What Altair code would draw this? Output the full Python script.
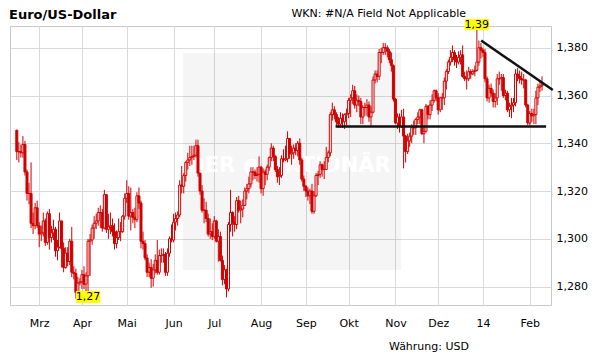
import altair as alt
import pandas as pd

RED = "#d00000"
FONT = "DejaVu Sans"

# ---- data (EUR/USD daily, 14 Feb 2013 .. 11 Feb 2014, trading days) ----
first_open = 1.3455
close = [
    1.3365, 1.3365,
    1.3360, 1.3395, 1.3280, 1.3190, 1.3190,
    1.3065, 1.3055, 1.3130, 1.3055, 1.3020,
    1.3025, 1.3075, 1.2985, 1.3105, 1.3005,
    1.3025, 1.3040, 1.2950, 1.2965, 1.3075,
    1.2960, 1.2880, 1.2940, 1.2905, 1.2990,
    1.2860, 1.2855, 1.2775, 1.2815, 1.2820,
    1.2850, 1.2810, 1.2845, 1.2990, 1.2995,
    1.3045, 1.3065, 1.3075, 1.3110, 1.3110,
    1.3045, 1.3185, 1.3040, 1.3050, 1.3055,
    1.3030, 1.2980, 1.3005, 1.3030, 1.3030,
    1.3095, 1.3170, 1.3190, 1.3095, 1.3110,
    1.3090, 1.3080, 1.3180, 1.3150, 1.2990,
    1.2980, 1.2920, 1.2860, 1.2880, 1.2835,
    1.2870, 1.2910, 1.2860, 1.2930, 1.2930,
    1.2935, 1.2860, 1.2940, 1.3000, 1.2995,
    1.3070, 1.3085, 1.3100, 1.3225, 1.3220,
    1.3265, 1.3320, 1.3330, 1.3340, 1.3345,
    1.3350, 1.3390, 1.3275, 1.3200, 1.3120,
    1.3120, 1.3085, 1.3020, 1.3030, 1.3010,
    1.3075, 1.2990, 1.3010, 1.2910, 1.2830,
    1.2870, 1.2790, 1.3060, 1.3110, 1.3070,
    1.3060, 1.3160, 1.3120, 1.3125, 1.3140,
    1.3200, 1.3210, 1.3230, 1.3280, 1.3280,
    1.3265, 1.3270, 1.3300, 1.3210, 1.3280,
    1.3270, 1.3300, 1.3340, 1.3380, 1.3345,
    1.3290, 1.3260, 1.3265, 1.3335, 1.3330,
    1.3335, 1.3420, 1.3355, 1.3360, 1.3380,
    1.3370, 1.3400, 1.3330, 1.3250, 1.3220,
    1.3200, 1.3180, 1.3200, 1.3115, 1.3180,
    1.3265, 1.3270, 1.3310, 1.3290, 1.3290,
    1.3340, 1.3360, 1.3520, 1.3540, 1.3520,
    1.3490, 1.3480, 1.3505, 1.3490, 1.3520,
    1.3525, 1.3580, 1.3590, 1.3620, 1.3560,
    1.3580, 1.3575, 1.3510, 1.3550, 1.3550,
    1.3560, 1.3510, 1.3530, 1.3665, 1.3690,
    1.3680, 1.3780, 1.3780, 1.3800, 1.3800,
    1.3785, 1.3750, 1.3725, 1.3585, 1.3485,
    1.3510, 1.3470, 1.3510, 1.3430, 1.3365,
    1.3410, 1.3430, 1.3465, 1.3465, 1.3500,
    1.3510, 1.3540, 1.3440, 1.3450, 1.3555,
    1.3520, 1.3560, 1.3580, 1.3620, 1.3590,
    1.3540, 1.3590, 1.3590, 1.3660, 1.3700,
    1.3740, 1.3760, 1.3780, 1.3750, 1.3740,
    1.3760, 1.3770, 1.3680, 1.3670, 1.3670,
    1.3700, 1.3690, 1.3700, 1.3705, 1.3740,
    1.3800, 1.3790, 1.3780, 1.3670, 1.3590,
    1.3630, 1.3610, 1.3575, 1.3590, 1.3670,
    1.3670, 1.3675, 1.3600, 1.3610, 1.3540,
    1.3555, 1.3560, 1.3570, 1.3690, 1.3680,
    1.3670, 1.3665, 1.3665, 1.3560, 1.3485,
    1.3525, 1.3515, 1.3520, 1.3590, 1.3635,
    1.3640, 1.3645,
]
high = [
    1.3455, 1.3405,
    1.3395, 1.3430, 1.3410, 1.3290, 1.3235,
    1.3320, 1.3110, 1.3150, 1.3160, 1.3070,
    1.3055, 1.3110, 1.3085, 1.3115, 1.3125,
    1.3055, 1.3080, 1.3050, 1.2995, 1.3110,
    1.3000, 1.2985, 1.2965, 1.2965, 1.3000,
    1.3050, 1.2885, 1.2875, 1.2840, 1.2835,
    1.2870, 1.2885, 1.2860, 1.3000, 1.3020,
    1.3060, 1.3095, 1.3105, 1.3130, 1.3140,
    1.3125, 1.3205, 1.3185, 1.3105, 1.3110,
    1.3085, 1.3065, 1.3035, 1.3085, 1.3070,
    1.3100, 1.3190, 1.3245, 1.3220, 1.3215,
    1.3125, 1.3130, 1.3195, 1.3215, 1.3160,
    1.3030, 1.2995, 1.2935, 1.2900, 1.2915,
    1.2895, 1.2935, 1.2995, 1.2955, 1.2960,
    1.2960, 1.2945, 1.2960, 1.3010, 1.3060,
    1.3105, 1.3110, 1.3115, 1.3245, 1.3305,
    1.3275, 1.3325, 1.3360, 1.3390, 1.3390,
    1.3390, 1.3415, 1.3415, 1.3275, 1.3225,
    1.3170, 1.3155, 1.3105, 1.3085, 1.3065,
    1.3095, 1.3080, 1.3040, 1.3030, 1.2930,
    1.2890, 1.2875, 1.3070, 1.3205, 1.3115,
    1.3095, 1.3175, 1.3180, 1.3160, 1.3165,
    1.3215, 1.3230, 1.3260, 1.3300, 1.3300,
    1.3290, 1.3300, 1.3345, 1.3305, 1.3295,
    1.3290, 1.3310, 1.3345, 1.3400, 1.3390,
    1.3350, 1.3305, 1.3300, 1.3350, 1.3375,
    1.3390, 1.3450, 1.3415, 1.3390, 1.3395,
    1.3400, 1.3410, 1.3420, 1.3340, 1.3265,
    1.3225, 1.3215, 1.3210, 1.3230, 1.3200,
    1.3275, 1.3285, 1.3325, 1.3315, 1.3325,
    1.3385, 1.3370, 1.3530, 1.3570, 1.3555,
    1.3530, 1.3510, 1.3530, 1.3525, 1.3525,
    1.3545, 1.3590, 1.3605, 1.3645, 1.3640,
    1.3605, 1.3600, 1.3590, 1.3560, 1.3570,
    1.3585, 1.3575, 1.3555, 1.3680, 1.3705,
    1.3705, 1.3795, 1.3800, 1.3820, 1.3820,
    1.3810, 1.3795, 1.3780, 1.3730, 1.3590,
    1.3525, 1.3525, 1.3540, 1.3545, 1.3435,
    1.3440, 1.3445, 1.3480, 1.3495, 1.3505,
    1.3530, 1.3545, 1.3545, 1.3470, 1.3565,
    1.3560, 1.3580, 1.3605, 1.3625, 1.3625,
    1.3610, 1.3595, 1.3610, 1.3675, 1.3710,
    1.3750, 1.3790, 1.3810, 1.3790, 1.3770,
    1.3785, 1.3790, 1.3810, 1.3700, 1.3705,
    1.3720, 1.3710, 1.3710, 1.3725, 1.3893,
    1.3830, 1.3820, 1.3800, 1.3795, 1.3680,
    1.3645, 1.3650, 1.3625, 1.3610, 1.3690,
    1.3700, 1.3690, 1.3690, 1.3625, 1.3620,
    1.3570, 1.3590, 1.3590, 1.3710, 1.3715,
    1.3705, 1.3700, 1.3690, 1.3670, 1.3565,
    1.3535, 1.3545, 1.3545, 1.3620, 1.3650,
    1.3665, 1.3680,
]
low = [
    1.3330, 1.3320,
    1.3340, 1.3340, 1.3265, 1.3160, 1.3145,
    1.3045, 1.3020, 1.3040, 1.3045, 1.2965,
    1.2990, 1.3010, 1.2970, 1.2975, 1.2955,
    1.2985, 1.2995, 1.2925, 1.2910, 1.2960,
    1.2880, 1.2860, 1.2875, 1.2885, 1.2890,
    1.2840, 1.2830, 1.2750, 1.2750, 1.2805,
    1.2790, 1.2790, 1.2780, 1.2745, 1.2845,
    1.2975, 1.3000, 1.3040, 1.3055, 1.3045,
    1.3030, 1.3040, 1.3025, 1.3000, 1.3020,
    1.3010, 1.2955, 1.2960, 1.2995, 1.2990,
    1.3025, 1.3080, 1.3150, 1.3080, 1.3035,
    1.3065, 1.3045, 1.3070, 1.3125, 1.2960,
    1.2955, 1.2910, 1.2840, 1.2840, 1.2795,
    1.2800, 1.2855, 1.2850, 1.2850, 1.2900,
    1.2900, 1.2845, 1.2845, 1.2925, 1.2985,
    1.2985, 1.3035, 1.3055, 1.3090, 1.3190,
    1.3190, 1.3240, 1.3290, 1.3305, 1.3310,
    1.3330, 1.3340, 1.3260, 1.3185, 1.3110,
    1.3065, 1.3070, 1.3010, 1.3000, 1.2995,
    1.3000, 1.2985, 1.2905, 1.2905, 1.2805,
    1.2810, 1.2755, 1.2780, 1.3030, 1.3010,
    1.3030, 1.3040, 1.3110, 1.3065, 1.3090,
    1.3140, 1.3165, 1.3190, 1.3215, 1.3245,
    1.3250, 1.3240, 1.3235, 1.3190, 1.3180,
    1.3225, 1.3245, 1.3285, 1.3325, 1.3325,
    1.3280, 1.3235, 1.3225, 1.3255, 1.3320,
    1.3325, 1.3320, 1.3335, 1.3310, 1.3335,
    1.3350, 1.3345, 1.3310, 1.3240, 1.3200,
    1.3175, 1.3160, 1.3145, 1.3105, 1.3105,
    1.3175, 1.3225, 1.3255, 1.3260, 1.3250,
    1.3325, 1.3320, 1.3345, 1.3495, 1.3500,
    1.3470, 1.3465, 1.3465, 1.3465, 1.3460,
    1.3475, 1.3505, 1.3510, 1.3565, 1.3545,
    1.3530, 1.3555, 1.3480, 1.3480, 1.3515,
    1.3515, 1.3490, 1.3470, 1.3525, 1.3650,
    1.3655, 1.3665, 1.3735, 1.3770, 1.3770,
    1.3760, 1.3735, 1.3700, 1.3575, 1.3480,
    1.3460, 1.3445, 1.3465, 1.3295, 1.3320,
    1.3355, 1.3385, 1.3400, 1.3435, 1.3435,
    1.3480, 1.3480, 1.3435, 1.3400, 1.3445,
    1.3500, 1.3500, 1.3535, 1.3570, 1.3575,
    1.3520, 1.3530, 1.3540, 1.3560, 1.3625,
    1.3690, 1.3725, 1.3740, 1.3725, 1.3715,
    1.3730, 1.3730, 1.3675, 1.3660, 1.3625,
    1.3660, 1.3670, 1.3685, 1.3680, 1.3700,
    1.3725, 1.3755, 1.3760, 1.3655, 1.3575,
    1.3570, 1.3595, 1.3550, 1.3550, 1.3560,
    1.3645, 1.3620, 1.3590, 1.3580, 1.3530,
    1.3510, 1.3505, 1.3530, 1.3555, 1.3660,
    1.3650, 1.3645, 1.3630, 1.3550, 1.3475,
    1.3475, 1.3490, 1.3480, 1.3480, 1.3560,
    1.3615, 1.3620,
]

month_ticks = [13, 34, 56, 79, 99, 122, 144, 165, 188, 209, 231, 254]
month_labels = ["Mrz", "Apr", "Mai", "Jun", "Jul", "Aug", "Sep", "Okt", "Nov", "Dez", "14", "Feb"]
y_ticks = [1.28, 1.30, 1.32, 1.34, 1.36, 1.38]

support_x = [158.6, 262.0]
support_y = [1.3470, 1.3470]
trend_x = [230.1, 265.3]
trend_y = [1.3830, 1.3623]

hi_marker_idx = [228]
hi_marker_text = ["1,39"]
lo_marker_idx = [37]
lo_marker_text = ["1,27"]

# ---- build tables ----
n = min(len(close), len(high), len(low))
close, high, low = close[:n], high[:n], low[:n]
opens = [first_open] + close[:-1]
df = pd.DataFrame({
    "idx": list(range(2, 2 + n)),
    "date": pd.bdate_range("2013-02-14", periods=n),
    "open": opens, "high": high, "low": low, "close": close,
})

x_scale = alt.Scale(domain=[1.11, 261.96], nice=False, zero=False)
y_scale = alt.Scale(domain=[1.2723, 1.3891], nice=False, zero=False)

label_expr_x = ("[" + ",".join(f"'{m}'" for m in month_labels) + "][indexof(["
                + ",".join(str(t) for t in month_ticks) + "], datum.value)]")

x_axis = alt.Axis(values=month_ticks, labelExpr=label_expr_x, grid=True, gridColor="#d9d9d9",
                  domain=False, ticks=False, tickSize=0, labelPadding=12, labelFont=FONT,
                  labelFontSize=11, labelColor="#000000", title=None, labelAngle=0,
                  labelFlush=False, labelOverlap=False)
y_axis = alt.Axis(orient="right", values=y_ticks,
                  labelExpr="replace(format(datum.value, '.3f'), '.', ',')",
                  grid=True, gridColor="#d9d9d9", domain=False, ticks=False, tickSize=0,
                  labelPadding=5, labelFont=FONT, labelFontSize=11, labelColor="#000000",
                  title=None, labelFlush=False, labelOverlap=False)

X = lambda f: alt.X(f, type="quantitative", scale=x_scale, axis=x_axis)
Y = lambda f: alt.Y(f, type="quantitative", scale=y_scale, axis=y_axis)

one = pd.DataFrame({"a": [0]})

watermark_box = alt.Chart(one).mark_rect(color="#000000", opacity=0.04).encode(
    x=alt.value(173), x2=alt.value(391), y=alt.value(27), y2=alt.value(244))
watermark_txt = alt.Chart(one).mark_text(
    text="DER \u25cf AKTIONÄR", font=FONT, fontSize=21, fontWeight="bold", color="#ffffff",
    align="center", baseline="alphabetic").encode(x=alt.value(279), y=alt.value(146))

base = alt.Chart(df)
wicks = base.mark_rule(color=RED, strokeWidth=1).encode(x=X("idx"), y=Y("low"), y2="high")
bodies = base.mark_bar(size=2, stroke=RED, strokeWidth=1).encode(
    x=X("idx"), y=Y("open"), y2="close",
    color=alt.condition("datum.close > datum.open", alt.value("#ffffff"), alt.value(RED)))

support = alt.Chart(pd.DataFrame({"x": support_x, "y": support_y})).mark_line(
    color="#111111", strokeWidth=2.5).encode(x=X("x"), y=Y("y"))
trend = alt.Chart(pd.DataFrame({"x": trend_x, "y": trend_y})).mark_line(
    color="#111111", strokeWidth=2.5).encode(x=X("x"), y=Y("y"))

hi_df = pd.DataFrame({"idx": hi_marker_idx, "t": hi_marker_text})
hi_df["x0"] = hi_df["idx"] - 6
hi_df["x1"] = hi_df["idx"] + 6
lo_df = pd.DataFrame({"idx": lo_marker_idx, "t": lo_marker_text})
lo_df["x0"] = lo_df["idx"] - 6
lo_df["x1"] = lo_df["idx"] + 6

hi_box = alt.Chart(hi_df).mark_rect(color="#ffff00").encode(
    x=X("x0"), x2="x1", y=alt.value(-7), y2=alt.value(4))
hi_txt = alt.Chart(hi_df).mark_text(font=FONT, fontSize=11, color="#000000",
                                    baseline="middle", align="center").encode(
    x=X("idx"), y=alt.value(-1.5), text="t:N")
lo_box = alt.Chart(lo_df).mark_rect(color="#ffff00").encode(
    x=X("x0"), x2="x1", y=alt.value(265), y2=alt.value(277))
lo_txt = alt.Chart(lo_df).mark_text(font=FONT, fontSize=11, color="#000000",
                                    baseline="middle", align="center").encode(
    x=X("idx"), y=alt.value(271), text="t:N")

title_txt = alt.Chart(one).mark_text(text="Euro/US-Dollar", font=FONT, fontSize=13,
                                     fontWeight="bold", color="#000000", align="left",
                                     baseline="middle").encode(x=alt.value(-1), y=alt.value(-11))
wkn_txt = alt.Chart(one).mark_text(text="WKN: #N/A Field Not Applicable", font=FONT,
                                   fontSize=11, color="#000000", align="right",
                                   baseline="middle").encode(x=alt.value(456), y=alt.value(-12))
cur_txt = alt.Chart(one).mark_text(text="Währung: USD", font=FONT, fontSize=11,
                                   color="#000000", align="right",
                                   baseline="middle").encode(x=alt.value(459), y=alt.value(321))

chart = alt.layer(
    watermark_box, watermark_txt, wicks, bodies, support, trend,
    hi_box, hi_txt, lo_box, lo_txt, title_txt, wkn_txt, cur_txt,
).properties(
    width=541, height=279,
    padding={"left": 2, "top": 18, "right": 50, "bottom": 50},
    autosize=alt.AutoSizeParams(type="none"),
    background="#ffffff",
).configure_view(stroke="#c8c8c8", strokeWidth=1)

chart.save("out.html", embed_options={"renderer": "svg", "actions": False})
